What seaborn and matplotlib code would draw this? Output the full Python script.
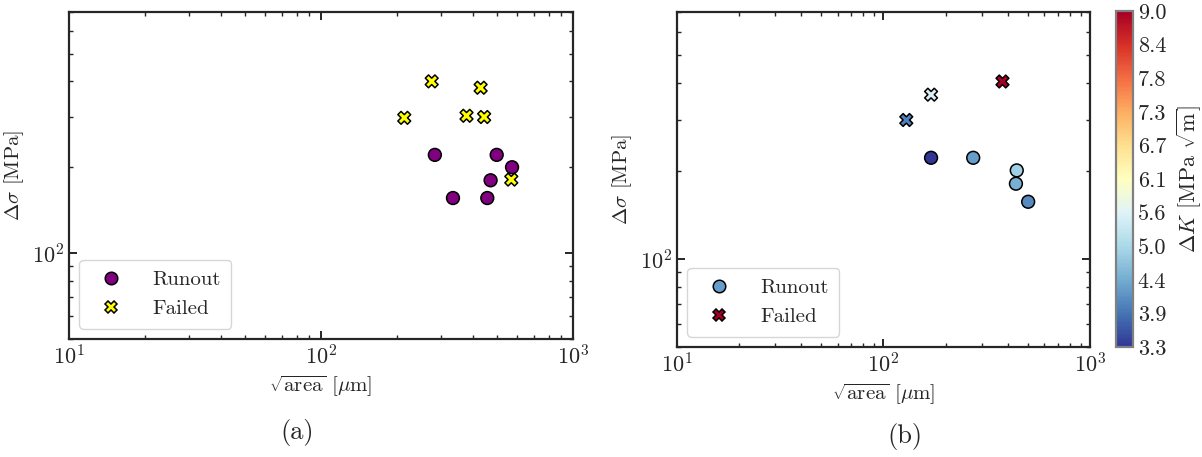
import numpy as np
import pandas as pd
import matplotlib
matplotlib.use('Agg')
import matplotlib.pyplot as plt
import matplotlib.colors as mcolors
from matplotlib.lines import Line2D
import seaborn as sns

# data
# (a) all specimens
a_area = [275, 430, 214, 378, 444, 569, 283, 498, 573, 471, 334, 457]
a_stress = [400, 380, 298, 303, 300, 181, 221, 221, 200, 180, 156, 156]
a_status = ['Failed'] * 6 + ['Runout'] * 6

# (b) subset coloured by delta K
b_area = [377, 170, 129, 170, 272, 442, 438, 502]
b_stress = [405, 365, 299, 222, 222, 201, 181, 157]
b_dk = [9.0, 5.5, 4.0, 3.3, 4.3, 4.9, 4.5, 4.1]
b_status = ['Failed'] * 3 + ['Runout'] * 5

cbar_ticks = [3.3, 3.87, 4.44, 5.01, 5.58, 6.15, 6.72, 7.29, 7.86, 8.43, 9.0]
cbar_labels = ['3.3', '3.9', '4.4', '5.0', '5.6', '6.1', '6.7', '7.3', '7.8', '8.4', '9.0']

sns.set_style('ticks')
plt.rcParams['font.family'] = ['cmr10', 'DejaVu Serif']
plt.rcParams['mathtext.fontset'] = 'cm'
plt.rcParams['axes.formatter.use_mathtext'] = True
plt.rcParams['font.size'] = 14
plt.rcParams['axes.linewidth'] = 1.6

df_a = pd.DataFrame({'area': a_area, 'stress': a_stress, 'status': a_status})
df_b = pd.DataFrame({'area': b_area, 'stress': b_stress, 'dk': b_dk, 'status': b_status})

fig = plt.figure(figsize=(12.02, 4.57), dpi=100)
ax1 = fig.add_axes([0.0574, 0.2582, 0.4193, 0.7155])
ax2 = fig.add_axes([0.5632, 0.2407, 0.3436, 0.7330])
cax = fig.add_axes([0.9285, 0.2407, 0.0141, 0.7352])

markers = {'Runout': 'o', 'Failed': 'X'}

sns.scatterplot(data=df_a, x='area', y='stress', hue='status', style='status',
                palette={'Runout': 'purple', 'Failed': 'yellow'}, markers=markers,
                s=85, edgecolor='black', linewidth=1.1, legend=False, ax=ax1, zorder=3)

cmap = plt.get_cmap('RdYlBu_r')
norm = mcolors.Normalize(vmin=3.3, vmax=9.0)
sns.scatterplot(data=df_b, x='area', y='stress', hue='dk', style='status',
                palette='RdYlBu_r', hue_norm=(3.3, 9.0), markers=markers,
                s=85, edgecolor='black', linewidth=1.1, legend=False, ax=ax2, zorder=3)

for ax in (ax1, ax2):
    ax.set_xscale('log')
    ax.set_yscale('log')
    ax.set_xlim(10, 1000)
    ax.set_ylim(50, 700)
    ax.tick_params(which='both', direction='in', top=True, right=True, labelsize=16)
    ax.tick_params(which='major', length=6, width=1.4)
    ax.tick_params(which='minor', length=3, width=1.0)
    ax.yaxis.set_minor_formatter(matplotlib.ticker.NullFormatter())
    ax.set_xlabel(r'$\sqrt{\mathrm{area}}$ [$\mu$m]', fontsize=15)
    ax.set_ylabel(r'$\Delta\sigma$ [MPa]', fontsize=15)

h1 = [Line2D([], [], ls='', marker='o', ms=9, mfc='purple', mec='black', mew=1.1),
      Line2D([], [], ls='', marker='X', ms=9, mfc='yellow', mec='black', mew=1.1)]
ax1.legend(h1, ['Runout', 'Failed'], loc='lower left', fontsize=15,
           handletextpad=1.0, borderpad=0.5, borderaxespad=0.5)

h2 = [Line2D([], [], ls='', marker='o', ms=9, mfc=cmap(norm(4.3)), mec='black', mew=1.1),
      Line2D([], [], ls='', marker='X', ms=9, mfc=cmap(norm(9.0)), mec='black', mew=1.1)]
ax2.legend(h2, ['Runout', 'Failed'], loc='lower left', fontsize=15,
           handletextpad=1.0, borderpad=0.5, borderaxespad=0.5)

sm = matplotlib.cm.ScalarMappable(norm=norm, cmap=cmap)
cb = fig.colorbar(sm, cax=cax, ticks=cbar_ticks)
cb.ax.set_yticklabels(cbar_labels)
cb.ax.tick_params(direction='in', length=4, width=1.2, labelsize=16)
cb.outline.set_edgecolor('0.5')
cb.set_label(r'$\Delta K$ [MPa $\sqrt{\mathrm{m}}$]', fontsize=16, labelpad=6)

fig.text(297 / 1202, 1 - 432 / 457, '(a)', fontsize=19, ha='center', va='center')
fig.text(905 / 1202, 1 - 437 / 457, '(b)', fontsize=19, ha='center', va='center')

fig.savefig('out.png', dpi=100)
